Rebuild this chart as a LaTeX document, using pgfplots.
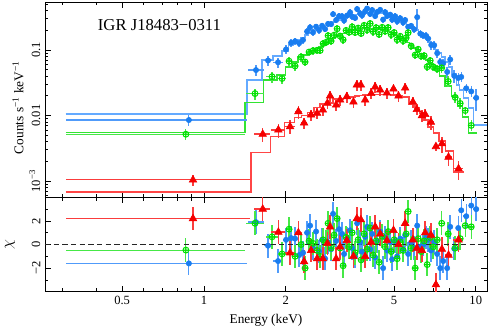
\documentclass[border=0pt]{standalone}
\usepackage{fontspec}
\setmainfont{Liberation Serif}
\usepackage{pgfplots}
\usepackage{pgfplotstable}
\pgfplotsset{compat=1.18}

\definecolor{bluemk}{RGB}{25,125,240}
\definecolor{blueeb}{RGB}{80,155,250}
\definecolor{bluemod}{RGB}{100,170,255}
\definecolor{greenmk}{RGB}{0,225,0}
\definecolor{greeneb}{RGB}{70,232,70}
\definecolor{greenmod}{RGB}{50,228,50}
\definecolor{redmk}{RGB}{245,0,0}
\definecolor{redeb}{RGB}{250,60,60}
\definecolor{redmod}{RGB}{255,70,70}

\pgfplotstableread{
E xr C yr M R
1.554 0.068 0.0494 0.20 0.0349 1.9
1.721 0.034 0.0692 0.19 0.0704 -0.1
1.873 0.042 0.0649 0.17 0.0810 -1.4
2.004 0.025 0.1021 0.15 0.0966 0.4
2.092 0.017 0.1288 0.15 0.1192 0.55
2.164 0.017 0.1360 0.13 0.1279 0.5
2.239 0.017 0.1270 0.13 0.1421 -0.9
2.315 0.017 0.1421 0.13 0.1552 -0.7
2.395 0.017 0.1916 0.13 0.1694 1.0
2.457 0.013 0.2214 0.13 0.1818 1.6
2.520 0.013 0.1857 0.11 0.1916 -0.3
2.585 0.013 0.2268 0.11 0.2020 1.1
2.652 0.013 0.1999 0.11 0.2130 -0.6
2.720 0.013 0.2341 0.11 0.2245 0.4
2.791 0.013 0.2086 0.11 0.2366 -1.2
2.862 0.013 0.2504 0.11 0.2452 0.2
2.936 0.013 0.2478 0.11 0.2584 -0.4
2.986 0.0085 0.3521 0.11 0.2677 2.6
3.064 0.013 0.2861 0.11 0.2772 0.3
3.142 0.013 0.3293 0.11 0.2871 1.3
3.223 0.013 0.3270 0.11 0.2974 0.9
3.278 0.0085 0.2831 0.11 0.3081 -0.8
3.363 0.013 0.3363 0.11 0.3191 0.5
3.450 0.013 0.3751 0.11 0.3305 1.2
3.509 0.0085 0.3236 0.11 0.3363 -0.3
3.599 0.013 0.3081 0.11 0.3423 -1.0
3.661 0.0085 0.4212 0.11 0.3484 1.8
3.755 0.013 0.3621 0.11 0.3546 0.2
3.819 0.0085 0.3387 0.11 0.3608 -0.6
3.918 0.013 0.3906 0.11 0.3646 0.65
3.985 0.0085 0.4301 0.11 0.3672 1.5
4.088 0.013 0.3546 0.11 0.3699 -0.4
4.158 0.0085 0.4067 0.11 0.3699 0.9
4.265 0.013 0.3293 0.11 0.3699 -1.1
4.338 0.0085 0.3791 0.11 0.3672 0.3
4.450 0.013 0.4096 0.11 0.3646 1.1
4.563 0.013 0.2912 0.11 0.3595 -2.0
4.642 0.0085 0.3777 0.11 0.3546 0.6
4.721 0.0085 0.3305 0.11 0.3484 -0.5
4.843 0.013 0.3460 0.11 0.3387 0.2
4.926 0.0085 0.2897 0.11 0.3305 -1.25
5.053 0.013 0.3270 0.11 0.3169 0.3
5.139 0.0085 0.2743 0.11 0.3049 -1.0
5.272 0.013 0.3049 0.11 0.2892 0.5
5.408 0.013 0.2630 0.11 0.2743 -0.4
5.499 0.0085 0.2861 0.11 0.2630 0.8
5.641 0.013 0.2253 0.11 0.2452 -0.8
5.787 0.013 0.2333 0.11 0.2285 0.2
5.936 0.013 0.2064 0.11 0.2130 -0.3
6.089 0.013 0.3169 0.33 0.2020 1.6
6.250 0.013 0.1774 0.13 0.1818 -0.2
6.408 0.013 0.1665 0.13 0.1665 0.0
6.573 0.013 0.1641 0.13 0.1525 0.6
6.683 0.0085 0.1493 0.13 0.1421 0.4
6.857 0.013 0.1192 0.15 0.1279 -0.5
7.034 0.013 0.1184 0.15 0.1151 0.2
7.215 0.013 0.0894 0.15 0.1000 -0.8
7.401 0.013 0.0656 0.17 0.0900 -2.0
7.592 0.013 0.0627 0.17 0.0782 -1.4
7.852 0.017 0.0462 0.19 0.0656 -2.0
8.054 0.013 0.0716 0.19 0.0551 1.5
8.333 0.017 0.0403 0.21 0.0431 -0.35
8.621 0.017 0.0374 0.19 0.0293 1.4
8.843 0.013 0.0388 0.17 0.0246 2.9
9.226 0.025 0.0260 0.15 0.0186 2.4
9.625 0.017 0.0233 0.19 0.0131 3.3
10.04 0.025 0.0186 0.37 0.0072 3.0
}\tblue

\pgfplotstableread{
E xr C yr M R
1.541 0.076 0.0216 0.19 0.01573 1.8
1.780 0.051 0.0391 0.19 0.0349 0.65
1.938 0.034 0.0367 0.17 0.0416 -0.8
2.056 0.021 0.0675 0.17 0.0551 1.3
2.164 0.021 0.0570 0.15 0.0656 -1.0
2.277 0.017 0.0782 0.15 0.0782 0.0
2.355 0.017 0.0656 0.13 0.0839 -2.0
2.436 0.013 0.0932 0.13 0.0900 0.3
2.520 0.013 0.0976 0.13 0.0966 0.1
2.608 0.013 0.0991 0.13 0.1054 -0.5
2.675 0.013 0.0983 0.13 0.1111 -1.0
2.744 0.013 0.1252 0.13 0.1192 0.4
2.815 0.013 0.1311 0.13 0.1279 0.2
2.862 0.0085 0.1653 0.13 0.1325 1.8
2.936 0.013 0.1372 0.13 0.1421 -0.3
3.011 0.013 0.1682 0.13 0.1525 0.8
3.090 0.013 0.2108 0.13 0.1607 2.2
3.169 0.013 0.1636 0.13 0.1694 -0.3
3.251 0.013 0.1431 0.13 0.1786 -1.8
3.334 0.013 0.1992 0.13 0.1850 0.6
3.421 0.013 0.1870 0.13 0.1916 -0.2
3.509 0.013 0.2245 0.13 0.1985 1.0
3.599 0.013 0.1850 0.13 0.2020 -0.7
3.692 0.013 0.2160 0.13 0.2057 0.4
3.787 0.013 0.1786 0.13 0.2093 -1.3
3.885 0.013 0.2379 0.13 0.2130 0.9
3.985 0.013 0.2028 0.13 0.2130 -0.4
4.088 0.013 0.2530 0.13 0.2130 1.4
4.193 0.013 0.1906 0.13 0.2130 -0.9
4.301 0.013 0.2187 0.13 0.2108 0.3
4.412 0.013 0.1728 0.13 0.2078 -1.5
4.526 0.013 0.2218 0.13 0.2035 0.7
4.642 0.013 0.1936 0.13 0.1985 -0.2
4.762 0.013 0.2195 0.13 0.1916 1.1
4.885 0.013 0.1718 0.13 0.1850 -0.6
5.011 0.013 0.1844 0.13 0.1755 0.4
5.139 0.013 0.1436 0.13 0.1665 -1.2
5.272 0.013 0.1619 0.13 0.1579 0.2
5.408 0.013 0.1384 0.13 0.1472 -0.5
5.546 0.013 0.1533 0.13 0.1372 0.9
5.641 0.0085 0.1837 0.13 0.1302 2.8
5.787 0.013 0.1151 0.13 0.1192 -0.3
5.987 0.017 0.0839 0.13 0.1073 -2.0
6.141 0.013 0.1026 0.13 0.0966 0.5
6.300 0.013 0.0807 0.13 0.0869 -0.6
6.462 0.013 0.0816 0.15 0.0782 0.3
6.629 0.013 0.0554 0.15 0.0704 -1.7
6.800 0.013 0.0689 0.15 0.0634 0.6
6.975 0.013 0.0554 0.15 0.0570 -0.2
7.215 0.017 0.0515 0.15 0.0487 0.4
7.496 0.017 0.0534 0.17 0.0402 1.8
7.920 0.021 0.0331 0.19 0.0283 0.9
8.404 0.021 0.0189 0.19 0.0199 -0.3
8.767 0.021 0.0153 0.19 0.0140 0.5
9.148 0.017 0.0119 0.15 0.00952 1.6
9.625 0.025 0.00706 0.19 0.00542 1.5
}\tgreen

\pgfplotstableread{
E xr C yr M R
1.645 0.068 0.00518 0.24 0.00275 3.0
1.878 0.059 0.00603 0.24 0.00483 1.05
2.074 0.042 0.00677 0.24 0.00784 -0.7
2.225 0.030 0.01146 0.24 0.00929 1.0
2.335 0.025 0.00771 0.19 0.00994 -1.45
2.478 0.025 0.01021 0.19 0.01114 -0.5
2.608 0.025 0.01083 0.19 0.01338 -1.2
2.737 0.021 0.01217 0.19 0.01502 -1.2
2.845 0.017 0.01540 0.19 0.01513 0.1
2.911 0.017 0.01990 0.19 0.01556 1.5
3.064 0.021 0.01451 0.19 0.01791 -1.2
3.169 0.017 0.01729 0.19 0.01791 -0.2
3.354 0.021 0.01942 0.19 0.01826 0.35
3.548 0.017 0.01612 0.19 0.01921 -1.0
3.652 0.013 0.02927 0.19 0.01990 2.2
3.778 0.013 0.02927 0.19 0.02025 2.1
3.918 0.017 0.01729 0.19 0.02061 -1.0
4.123 0.017 0.02173 0.19 0.02097 0.2
4.265 0.017 0.02729 0.19 0.02097 1.5
4.450 0.017 0.02456 0.19 0.02097 0.9
4.710 0.021 0.02211 0.19 0.02079 0.35
4.981 0.021 0.02544 0.19 0.02061 1.2
5.197 0.017 0.01990 0.19 0.01990 0.0
5.499 0.021 0.02635 0.19 0.01921 1.8
5.871 0.021 0.01612 0.19 0.01502 0.4
6.073 0.017 0.01238 0.19 0.01305 -0.3
6.337 0.021 0.00994 0.21 0.01095 -0.5
6.518 0.013 0.01039 0.21 0.00857 1.0
6.839 0.025 0.00792 0.24 0.00670 0.8
7.136 0.025 0.00336 0.15 0.00542 -3.4
7.508 0.025 0.00371 0.28 0.00409 -0.4
7.941 0.030 0.00232 0.28 0.00288 -0.9
8.643 0.042 0.00154 0.33 0.00138 0.4
}\tred

\pgfplotsset{
  bmark/.style={mark=*, mark size=2pt, mark options={draw=bluemk, fill=bluemk}},
  gmark/.style={mark=oplus, mark size=2.2pt, mark options={draw=greenmk, line width=0.75pt, fill=none}},
  rmark/.style={mark=triangle*, mark size=3.3pt, mark options={draw=redmk, fill=redmk}},
}

\begin{document}
\begin{tikzpicture}
\useasboundingbox (-33.75pt,-26.5pt) rectangle (336pt,218.8pt);

% ---------------- top panel ----------------
\begin{axis}[
  xmode=log, xmin=0.26, xmax=11,
  scale only axis, width=331.5pt, height=146.5pt,
  at={(0pt,70.8pt)}, anchor=south west,
  xtick={0.5,1,2,5,10},
  minor xtick={0.3,0.4,0.6,0.7,0.8,0.9,3,4,6,7,8,9},
  xticklabels={},
  tick align=inside,
  major tick length=4.5pt, minor tick length=2.5pt,
  tick style={black, line width=0.5pt},
  axis line style={line width=0.6pt},
  tick label style={font=\fontsize{9.4}{11}\selectfont},
  label style={font=\fontsize{10}{12}\selectfont},
  /pgf/number format/assume math mode=true,
  ymode=log, ymin=5.64e-4, ymax=0.54,
  ytick={0.001,0.01,0.1}, yticklabels={10\textsuperscript{−3},0.01,0.1},
  minor ytick={6e-4,7e-4,8e-4,9e-4,0.002,0.003,0.004,0.005,0.006,0.007,0.008,0.009,0.02,0.03,0.04,0.05,0.06,0.07,0.08,0.09,0.2,0.3,0.4,0.5},
  yticklabel style={rotate=90, anchor=south},
  ylabel={Counts s\textsuperscript{−1} keV\textsuperscript{−1}},
  ylabel style={at={(axis description cs:-0.061,0.46)}, anchor=center},
]
% models
\addplot[bluemod, line width=1.1pt, const plot mark mid] table[x=E, y=M] {\tblue};
\addplot[bluemod, line width=1.1pt] coordinates {(0.31,0.0105) (1.44,0.0105) (1.44,0.0349) (1.554,0.0349)};
\addplot[bluemod, line width=1.1pt] coordinates {(10.04,0.0072) (11,0.0072)};
\addplot[greenmod, line width=1.1pt, const plot mark mid] table[x=E, y=M] {\tgreen};
\addplot[greenmod, line width=1.1pt] coordinates {(0.31,0.0055) (1.415,0.0055) (1.415,0.01573) (1.541,0.01573)};
\addplot[greenmod, line width=1.1pt] coordinates {(9.625,0.00542) (10.13,0.00542)};
\addplot[redmod, line width=1pt, const plot mark mid] table[x=E, y=M] {\tred};
\addplot[redmod, line width=1pt] coordinates {(0.31,0.00068) (1.49,0.00068) (1.49,0.00275) (1.645,0.00275)};
\addplot[redmod, line width=1pt] coordinates {(8.643,0.00138) (9.06,0.00138)};
% data
\addplot[bmark, only marks,
  error bars/x dir=both, error bars/x explicit relative,
  error bars/y dir=both, error bars/y explicit relative,
  error bars/error mark=none, error bars/error bar style={blueeb, line width=1.1pt}]
  table[x=E, y=C, x error=xr, y error=yr] {\tblue};
\addplot[bmark, only marks,
  error bars/x dir=both, error bars/x explicit,
  error bars/y dir=both, error bars/y explicit,
  error bars/error mark=none, error bars/error bar style={blueeb, line width=0.8pt}]
  coordinates {(0.88,0.00853) += (0.56,0.0016) -= (0.57,0.0016)};
\addplot[gmark, only marks,
  error bars/x dir=both, error bars/x explicit relative,
  error bars/y dir=both, error bars/y explicit relative,
  error bars/error mark=none, error bars/error bar style={greeneb, line width=1.1pt}]
  table[x=E, y=C, x error=xr, y error=yr] {\tgreen};
\addplot[gmark, only marks,
  error bars/x dir=both, error bars/x explicit,
  error bars/y dir=both, error bars/y explicit,
  error bars/error mark=none, error bars/error bar style={greeneb, line width=0.8pt}]
  coordinates {(0.858,0.00518) += (0.557,0.001) -= (0.548,0.001)};
\addplot[rmark, only marks,
  error bars/x dir=both, error bars/x explicit relative,
  error bars/y dir=both, error bars/y explicit relative,
  error bars/error mark=none, error bars/error bar style={redeb, line width=1.1pt}]
  table[x=E, y=C, x error=xr, y error=yr] {\tred};
\addplot[rmark, only marks,
  error bars/x dir=both, error bars/x explicit,
  error bars/y dir=both, error bars/y explicit,
  error bars/error mark=none, error bars/error bar style={redeb, line width=0.8pt}]
  coordinates {(0.911,0.00104) += (0.566,0.0002) -= (0.601,0.0002)};
\node[font=\fontsize{12.5}{15}\selectfont] at (axis cs:0.686,0.24) {IGR J18483−0311};
\end{axis}

% ---------------- residual panel ----------------
\begin{axis}[
  xmode=log, xmin=0.26, xmax=11,
  scale only axis, width=331.5pt, height=70.8pt,
  at={(0pt,0pt)}, anchor=south west,
  xtick={0.5,1,2,5,10},
  minor xtick={0.3,0.4,0.6,0.7,0.8,0.9,3,4,6,7,8,9},
  xticklabels={0.5,1,2,5,10},
  tick align=inside,
  major tick length=4.5pt, minor tick length=2.5pt,
  tick style={black, line width=0.5pt},
  axis line style={line width=0.6pt},
  tick label style={font=\fontsize{9.4}{11}\selectfont},
  label style={font=\fontsize{10}{12}\selectfont},
  /pgf/number format/assume math mode=true,
  ymin=-4, ymax=4,
  ytick={-2,0,2}, yticklabels={−2,0,2},
  minor ytick={-3,-1,1,3},
  yticklabel style={rotate=90, anchor=south},
  xlabel={Energy (keV)},
  ylabel={$\chi$},
  ylabel style={at={(axis description cs:-0.079,0.5)}, anchor=center, font=\fontsize{12}{14}\selectfont},
]
\addplot[bmark, only marks,
  error bars/x dir=both, error bars/x explicit relative,
  error bars/y dir=both, error bars/y fixed=1,
  error bars/error mark=none, error bars/error bar style={blueeb, line width=1.1pt}]
  table[x=E, y=R, x error=xr] {\tblue};
\addplot[bmark, only marks,
  error bars/x dir=both, error bars/x explicit,
  error bars/y dir=both, error bars/y explicit,
  error bars/error mark=none, error bars/error bar style={blueeb, line width=0.8pt}]
  coordinates {(0.88,-1.6) += (0.56,1) -= (0.57,1)};
\addplot[gmark, only marks,
  error bars/x dir=both, error bars/x explicit relative,
  error bars/y dir=both, error bars/y fixed=1,
  error bars/error mark=none, error bars/error bar style={greeneb, line width=1.1pt}]
  table[x=E, y=R, x error=xr] {\tgreen};
\addplot[gmark, only marks,
  error bars/x dir=both, error bars/x explicit,
  error bars/y dir=both, error bars/y explicit,
  error bars/error mark=none, error bars/error bar style={greeneb, line width=0.8pt}]
  coordinates {(0.858,-0.47) += (0.557,1) -= (0.548,1)};
\addplot[rmark, only marks,
  error bars/x dir=both, error bars/x explicit relative,
  error bars/y dir=both, error bars/y fixed=1,
  error bars/error mark=none, error bars/error bar style={redeb, line width=1.1pt}]
  table[x=E, y=R, x error=xr] {\tred};
\addplot[rmark, only marks,
  error bars/x dir=both, error bars/x explicit,
  error bars/y dir=both, error bars/y explicit,
  error bars/error mark=none, error bars/error bar style={redeb, line width=0.8pt}]
  coordinates {(0.911,2.2) += (0.566,1) -= (0.601,1)};
\addplot[black!85, line width=0.7pt, dash pattern=on 4pt off 2.5pt] coordinates {(0.26,0) (11,0)};
\end{axis}
\end{tikzpicture}
\end{document}
